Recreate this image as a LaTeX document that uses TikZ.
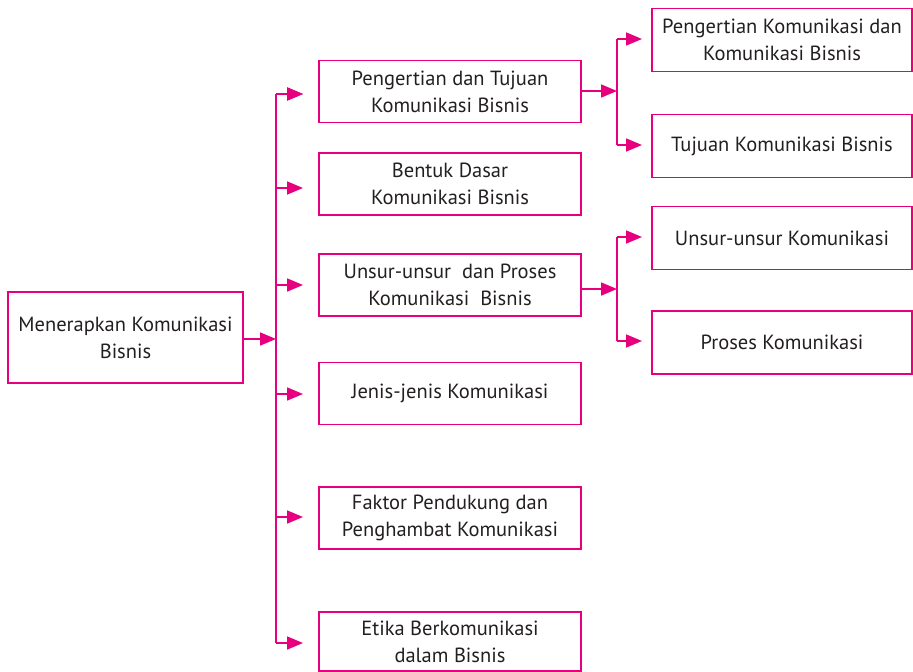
\documentclass[tikz,border=0pt]{standalone}
\usepackage{fontspec}
\setmainfont{PT Sans}
\usetikzlibrary{arrows.meta}
\definecolor{mag}{HTML}{E6007E}
\definecolor{txt}{HTML}{231F20}
\begin{document}
\begin{tikzpicture}[x=1pt,y=-1pt,
  bx/.style={draw=mag,line width=1.7pt,text=txt,align=center,inner sep=0pt,
    font=\fontsize{20.5}{27}\selectfont},
  lone/.style={bx,minimum width=262pt,minimum height=62pt},
  ltwo/.style={bx,minimum width=260pt,minimum height=63pt},
  con/.style={draw=mag,line width=1.7pt},
  arr/.style={con,-{Triangle[length=16pt,width=13pt]}}]
\useasboundingbox (0,0) rectangle (913,672);
\node[bx,minimum width=235pt,minimum height=91pt] (root) at (125.5,337.5) {Menerapkan Komunikasi\\Bisnis};
\node[lone] (a) at (450,91.5) {Pengertian dan Tujuan\\Komunikasi Bisnis};
\node[lone] (b) at (450,184) {Bentuk Dasar\\Komunikasi Bisnis};
\node[lone] (c) at (450,285) {Unsur-unsur\ \ dan Proses\\Komunikasi\ \ Bisnis};
\node[lone] (d) at (450,393.5) {Jenis-jenis Komunikasi};
\node[lone] (e) at (450,518) {Faktor Pendukung dan\\Penghambat Komunikasi};
\node[lone,minimum height=59pt] (f) at (450,641.5) {Etika Berkomunikasi\\dalam Bisnis};
\node[ltwo] (a1) at (782,40) {Pengertian Komunikasi dan\\Komunikasi Bisnis};
\node[ltwo] (a2) at (782,146) {Tujuan Komunikasi Bisnis};
\node[ltwo] (c1) at (782,238) {Unsur-unsur Komunikasi};
\node[ltwo] (c2) at (782,342.5) {Proses Komunikasi};
% trunk
\coordinate (jr) at (276,339);
\coordinate (ta) at (276,94);
\coordinate (tf) at (276,643);
\draw[arr] (root.east |- jr) -- (jr);
\draw[con] (ta) -- (tf);
\foreach \n/\y in {a/94,b/188,c/285,d/394,e/517} {
  \draw[arr] (276,\y) -- (303,\y);
}
\draw[arr] (ta) -- (303,94);
\draw[arr] (tf) -- (303,643);
% sub branch a
\coordinate (ja) at (617,91);
\draw[arr] (a.east |- ja) -- (ja);
\draw[con] (617,39) -- (617,145);
\draw[arr] (617,39) -- (642,39);
\draw[arr] (617,145) -- (642,145);
% sub branch c
\coordinate (jc) at (617,289);
\draw[arr] (c.east |- jc) -- (jc);
\draw[con] (617,237) -- (617,341);
\draw[arr] (617,237) -- (642,237);
\draw[arr] (617,341) -- (642,341);
\end{tikzpicture}
\end{document}
